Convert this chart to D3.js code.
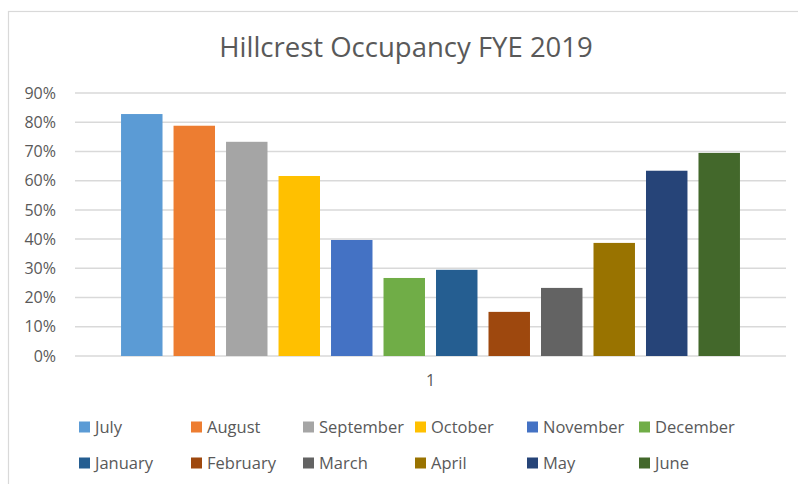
<!DOCTYPE html>
<html>
<head>
<meta charset="utf-8">
<script src="https://cdn.jsdelivr.net/npm/d3@7"></script>
<style>
  body { margin: 0; background: #fff; }
  text { font-family: "Open Sans", sans-serif; fill: #595959; }
</style>
</head>
<body>
<div id="container"></div>
<script>
/* DATA */
const months = ["July", "August", "September", "October", "November", "December",
                "January", "February", "March", "April", "May", "June"];
const occupancy = [0.828, 0.788, 0.733, 0.616, 0.397, 0.267,
                   0.295, 0.151, 0.233, 0.387, 0.634, 0.695];
const categories = ["1"];
const yTicks = [0, 0.1, 0.2, 0.3, 0.4, 0.5, 0.6, 0.7, 0.8, 0.9];
const colors = ["#5B9BD5", "#ED7D31", "#A5A5A5", "#FFC000", "#4472C4", "#70AD47",
                "#255E91", "#9E480E", "#636363", "#997300", "#264478", "#43682B"];

/* CONSTANTS */
const width = 798,
      height = 484,
      plot = { left: 75, right: 786, top: 93, bottom: 356 };

const svg = d3.select("#container")
  .append("svg")
  .attr("width", width)
  .attr("height", height)

// chart border
svg.append("rect")
  .attr("x", 8.5)
  .attr("y", 11.5)
  .attr("width", width)
  .attr("height", height)
  .attr("fill", "none")
  .attr("stroke", "#d9d9d9")
  .attr("stroke-width", 1.2)

// SCALES
const y = d3.scaleLinear()
  .domain([0, 0.9])
  .range([plot.bottom, plot.top])

const x0 = d3.scaleBand()
  .domain(categories)
  .range([plot.left, plot.right])

const x1 = d3.scaleBand()
  .domain(months)
  .range([0, x0.bandwidth()])
  .paddingInner(0.21)
  .paddingOuter(0.877)

const color = d3.scaleOrdinal()
  .domain(months)
  .range(colors)

// title
svg.append("text")
  .attr("x", 406)
  .attr("y", 57)
  .attr("text-anchor", "middle")
  .attr("font-size", "27.5px")
  .text("Hillcrest Occupancy FYE 2019")

// gridlines
svg.append("g")
  .selectAll("line")
  .data(yTicks)
  .join("line")
  .attr("x1", plot.left)
  .attr("x2", plot.right)
  .attr("y1", d => y(d))
  .attr("y2", d => y(d))
  .attr("stroke", "#d9d9d9")
  .attr("stroke-width", 1.5)

// y axis labels
const yAxis = d3.axisLeft(y)
  .tickValues(yTicks)
  .tickFormat(d3.format(".0%"))
  .tickSize(0)
  .tickPadding(0)

svg.append("g")
  .attr("transform", `translate(${plot.left - 19},0)`)
  .call(yAxis)
  .call(g => g.select(".domain").remove())
  .call(g => g.selectAll("text")
    .attr("font-size", "16px")
    .attr("font-family", null)
    .attr("fill", "#595959"))

// bars
const data = months.map((m, i) => ({ month: m, value: occupancy[i] }))

svg.append("g")
  .attr("transform", `translate(${x0("1")},0)`)
  .selectAll("rect")
  .data(data)
  .join("rect")
  .attr("x", d => x1(d.month))
  .attr("y", d => y(d.value))
  .attr("width", x1.bandwidth())
  .attr("height", d => y(0) - y(d.value))
  .attr("fill", d => color(d.month))

// x axis
const xAxis = d3.axisBottom(x0).tickSize(0).tickPadding(0)
svg.append("g")
  .attr("transform", `translate(0,${plot.bottom + 19})`)
  .call(xAxis)
  .call(g => g.select(".domain").remove())
  .call(g => g.selectAll("text")
    .attr("font-size", "16px")
    .attr("font-family", null)
    .attr("fill", "#595959"))

// legend
const legend = svg.append("g")
  .selectAll("g")
  .data(months)
  .join("g")
  .attr("transform", (d, i) => `translate(${79 + (i % 6) * 112},${427 + Math.floor(i / 6) * 36})`)

legend.append("rect")
  .attr("x", 0)
  .attr("y", -5.5)
  .attr("width", 11)
  .attr("height", 11)
  .attr("fill", d => color(d))

legend.append("text")
  .attr("x", 16)
  .attr("y", 0)
  .attr("dy", "0.35em")
  .attr("font-size", "16.5px")
  .text(d => d)
</script>
</body>
</html>
